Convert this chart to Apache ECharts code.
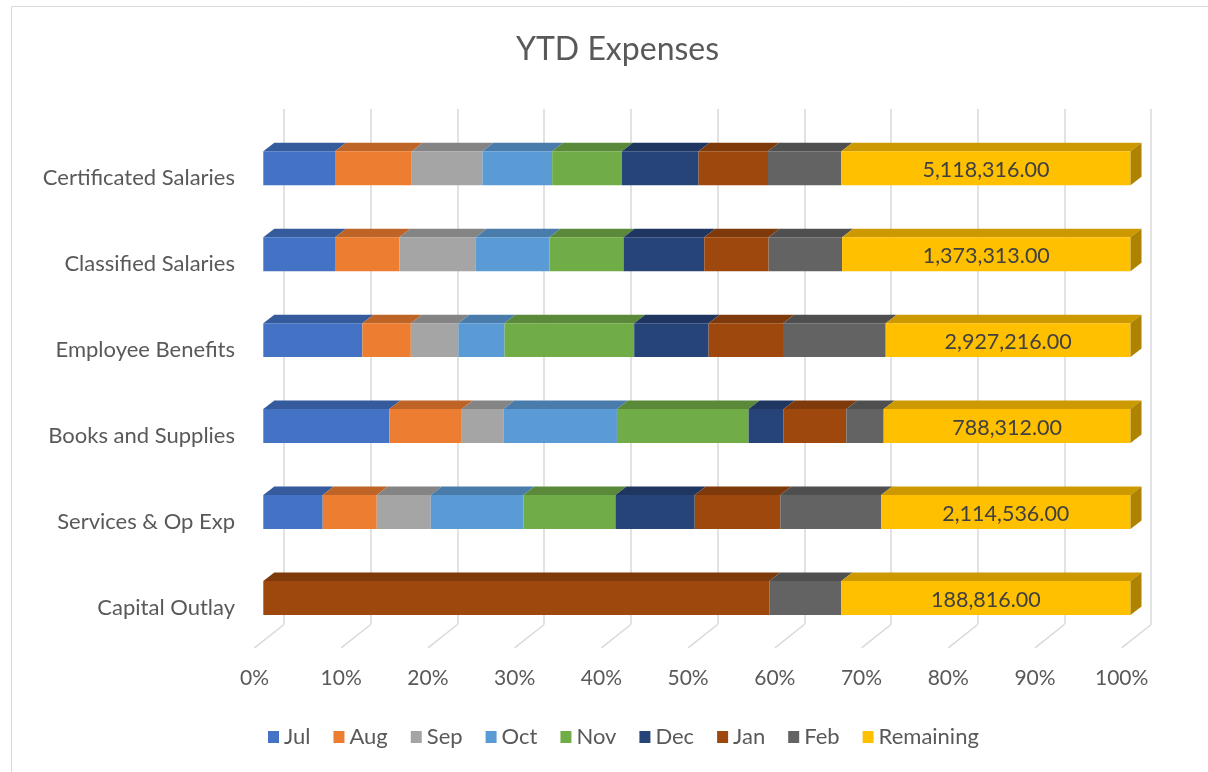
<!DOCTYPE html>
<html>
<head>
<meta charset="utf-8">
<title>YTD Expenses</title>
<script src="https://cdn.jsdelivr.net/npm/echarts@6/dist/echarts.min.js"></script>
<style>
  html, body { margin: 0; padding: 0; background: #fff; }
  #chart { width: 1208px; height: 772px; }
</style>
</head>
<body>
<div id="chart"></div>
<script>
// rows, top to bottom
var categories = ['Certificated Salaries', 'Classified Salaries', 'Employee Benefits', 'Books and Supplies', 'Services & Op Exp', 'Capital Outlay']

// share of each row (%)
var jul = [8.27, 8.27, 11.42, 14.54, 6.85, 0]
var aug = [8.85, 7.42, 5.59, 8.35, 6.23, 0]
var sep = [8.15, 8.82, 5.49, 4.80, 6.23, 0]
var oct = [8.04, 8.49, 5.31, 13.09, 10.69, 0]
var nov = [8.04, 8.54, 14.96, 15.18, 10.61, 0]
var dec = [8.84, 9.31, 8.58, 4.04, 9.14, 0]
var jan = [8.01, 7.42, 8.58, 7.23, 9.87, 58.35]
var feb = [8.46, 8.47, 11.84, 4.31, 11.62, 8.31]
var remaining = [33.34, 33.26, 28.23, 28.46, 28.76, 33.34]

// amounts printed on the Remaining segment
var remainingAmounts = [5118316, 1373313, 2927216, 788312, 2114536, 188816]

var seriesNames = ['Jul', 'Aug', 'Sep', 'Oct', 'Nov', 'Dec', 'Jan', 'Feb', 'Remaining']
var seriesData = [jul, aug, sep, oct, nov, dec, jan, feb, remaining]
var ticks = [0, 10, 20, 30, 40, 50, 60, 70, 80, 90, 100]

var colors = ['#4472C4', '#ED7D31', '#A5A5A5', '#5B9BD5', '#70AD47', '#264478', '#9E480E', '#636363', '#FFC000']

var FONT = 'Lato'
var DX = 11, DY = 8.5        // bar depth
var FX = -29.5, FY = 23.3    // floor depth (back wall -> front edge)

function shade(hex, k) {
  var n = parseInt(hex.slice(1), 16)
  var r = Math.round(((n >> 16) & 255) * k)
  var g = Math.round(((n >> 8) & 255) * k)
  var b = Math.round((n & 255) * k)
  return 'rgb(' + r + ',' + g + ',' + b + ')'
}

function fmt(v) {
  return v.toLocaleString('en-US', { minimumFractionDigits: 2, maximumFractionDigits: 2 })
}

// stacked start/end per row
var cum = categories.map(function () { return 0 })
var series = seriesData.map(function (arr, si) {
  var data = arr.map(function (v, row) {
    var s = cum[row]
    cum[row] += v
    return [s, s + v, row, v]
  })
  var isLast = si === seriesData.length - 1
  return {
    name: seriesNames[si],
    type: 'custom',
    xAxisIndex: 0,
    yAxisIndex: 0,
    encode: { x: [0, 1], y: 2 },
    data: data,
    z: 3,
    renderItem: function (params, api) {
      var s = api.value(0), e = api.value(1), row = api.value(2)
      if (e - s <= 0) return
      var p0 = api.coord([s, row])
      var p1 = api.coord([e, row])
      var h = api.size([0, 1])[1] * 0.395
      var top = p0[1] - h / 2
      var c = colors[si]
      var children = [
        {
          type: 'polygon',
          shape: { points: [[p0[0], top], [p1[0], top], [p1[0] + DX, top - DY], [p0[0] + DX, top - DY]] },
          style: { fill: shade(c, 0.8) }
        },
        {
          type: 'rect',
          shape: { x: p0[0], y: top, width: p1[0] - p0[0], height: h },
          style: { fill: c }
        }
      ]
      if (isLast) {
        children.push({
          type: 'polygon',
          shape: { points: [[p1[0], top], [p1[0] + DX, top - DY], [p1[0] + DX, top + h - DY], [p1[0], top + h]] },
          style: { fill: shade(c, 0.68) }
        })
        children.push({
          type: 'text',
          style: {
            x: (p0[0] + p1[0]) / 2,
            y: p0[1] + 2,
            text: fmt(remainingAmounts[row]),
            align: 'center',
            verticalAlign: 'middle',
            fill: '#404040',
            font: '21.5px ' + FONT
          }
        })
      }
      return { type: 'group', children: children }
    }
  }
})

// floor lines running from the back wall to the front
series.push({
  type: 'custom',
  name: 'floor',
  xAxisIndex: 1,
  yAxisIndex: 1,
  silent: true,
  z: 1,
  data: ticks.map(function (t) { return [t, 0] }),
  encode: { x: 0, y: 1 },
  renderItem: function (params, api) {
    var p = api.coord([api.value(0), 0])
    var bottom = params.coordSys.y + params.coordSys.height
    return {
      type: 'line',
      shape: { x1: p[0], y1: bottom, x2: p[0] + FX, y2: bottom + FY },
      style: { stroke: '#d9d9d9', lineWidth: 1.5 }
    }
  }
})

var chart = echarts.init(document.getElementById('chart'))

var option = {
  backgroundColor: '#fff',
  color: colors,
  animation: false,
  textStyle: { fontFamily: FONT },
  title: {
    text: 'YTD Expenses',
    left: 511,
    top: 29,
    textStyle: { fontSize: 32, fontWeight: 'normal', color: '#595959', fontFamily: FONT }
  },
  legend: {
    data: seriesNames,
    bottom: 19,
    left: 263,
    icon: 'rect',
    itemWidth: 11,
    itemHeight: 12,
    itemGap: 23,
    textStyle: { fontSize: 22, color: '#595959', fontFamily: FONT }
  },
  graphic: [{
    type: 'rect',
    z: -10,
    silent: true,
    shape: { x: 11.5, y: 6.5, width: 1400, height: 900 },
    style: { fill: 'none', stroke: '#d9d9d9', lineWidth: 1 }
  }],
  grid: [
    // front face of the bars
    { left: 263.3, right: 77.5, top: 125.3, bottom: 131.1 },
    // back wall
    { left: 284, right: 56.8, top: 108.9, bottom: 147.5 },
    // front edge of the floor, carries the percent labels
    { left: 254.5, right: 86.3, top: 132.2, bottom: 124.2 },
    // category labels
    { left: 254.5, right: 86.3, top: 135.2, bottom: 121.2 }
  ],
  xAxis: [
    { gridIndex: 0, type: 'value', min: 0, max: 100, show: false },
    {
      gridIndex: 1, type: 'value', min: 0, max: 100, interval: 10,
      axisLine: { show: false }, axisTick: { show: false }, axisLabel: { show: false },
      splitLine: { show: true, lineStyle: { color: '#d9d9d9', width: 1.5 } }
    },
    {
      gridIndex: 2, type: 'value', min: 0, max: 100, interval: 10,
      axisLine: { show: false }, axisTick: { show: false }, splitLine: { show: false },
      axisLabel: { margin: 20, fontSize: 21, color: '#595959', fontFamily: FONT, formatter: '{value}%' }
    },
    { gridIndex: 3, type: 'value', min: 0, max: 100, show: false }
  ],
  yAxis: [
    { gridIndex: 0, type: 'category', data: categories, inverse: true, show: false },
    { gridIndex: 1, type: 'category', data: categories, inverse: true, show: false },
    { gridIndex: 2, type: 'category', data: categories, inverse: true, show: false },
    {
      gridIndex: 3, type: 'category', data: categories, inverse: true,
      axisLine: { show: false }, axisTick: { show: false }, splitLine: { show: false },
      axisLabel: { margin: 19.5, fontSize: 22, color: '#595959', fontFamily: FONT }
    }
  ],
  series: series
}

chart.setOption(option)
</script>
</body>
</html>
